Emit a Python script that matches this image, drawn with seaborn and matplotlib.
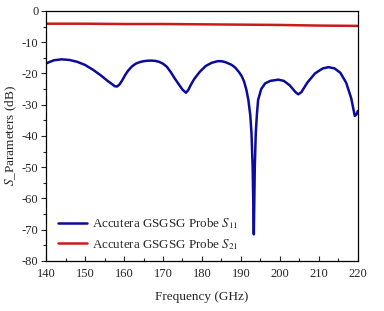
import numpy as np
import pandas as pd
import matplotlib
matplotlib.use('Agg')
import matplotlib.pyplot as plt
import seaborn as sns
from matplotlib.ticker import MultipleLocator

# S11 曲线
s11_freq = [140, 142, 144, 146, 148, 150, 152, 154, 156, 157, 157.6, 158.2, 158.8, 159.5, 160.3,
            161, 162, 163, 164, 165, 166, 167, 168, 169, 170, 171, 172, 173, 174, 175, 175.9,
            176.5, 177, 178, 179.5, 181, 182.5, 184, 185, 186, 187.5, 188.5, 189.5, 190.2, 190.8,
            191.4, 191.9, 192.4, 192.7, 193.0, 193.3, 193.55, 193.8, 194.1, 194.4, 195.2, 196.2,
            197.5, 199.6, 201, 202.5, 204, 204.7, 205.5, 207, 209, 211, 212.5, 214, 215.5, 217,
            218.3, 219.2, 219.6, 220]
s11_db = [-16.8, -15.8, -15.5, -15.7, -16.3, -17.3, -18.8, -20.6, -22.6, -23.5, -24.1, -24.2,
          -23.6, -22.3, -20.5, -19.2, -17.8, -16.9, -16.4, -16.1, -15.95, -15.9, -16.0, -16.3,
          -16.9, -17.9, -19.6, -21.6, -23.4, -25.2, -26.2, -25.3, -24.0, -21.8, -19.4, -17.6,
          -16.6, -16.1, -16.1, -16.4, -17.2, -18.1, -19.6, -20.9, -22.6, -25.3, -28.5, -33.5,
          -39.1, -50.0, -71.5, -50.0, -39.1, -33.0, -28.5, -25.0, -23.2, -22.4, -22.0, -22.4,
          -23.8, -26.0, -26.7, -26.0, -23.0, -20.0, -18.4, -18.0, -18.4, -19.8, -23.0, -28.0,
          -33.6, -33.2, -32.0]

# S21 曲线
s21_freq = [140, 150, 160, 170, 180, 190, 200, 210, 220]
s21_db = [-4.1, -4.1, -4.2, -4.2, -4.3, -4.4, -4.5, -4.7, -4.8]

x_ticks = [140, 150, 160, 170, 180, 190, 200, 210, 220]
y_ticks = [0, -10, -20, -30, -40, -50, -60, -70, -80]

sns.set_theme(style='ticks')
plt.rcParams['font.family'] = ['Liberation Serif', 'DejaVu Serif']
plt.rcParams['mathtext.fontset'] = 'stix'
plt.rcParams['axes.unicode_minus'] = False

fig = plt.figure(figsize=(3.84, 3.11), dpi=100)
ax = fig.add_axes([0.12, 0.161, 0.812, 0.804])

df11 = pd.DataFrame({'freq': s11_freq, 'db': s11_db})
df21 = pd.DataFrame({'freq': s21_freq, 'db': s21_db})
sns.lineplot(data=df11, x='freq', y='db', ax=ax, color='#0b0b9c', lw=1.8,
             label='Accutera GSGSG Probe $S_{11}$')
sns.lineplot(data=df21, x='freq', y='db', ax=ax, color='#cc1a1a', lw=1.8,
             label='Accutera GSGSG Probe $S_{21}$')

ax.set_xlim(140, 220)
ax.set_ylim(-80, 0)
ax.set_xticks(x_ticks)
ax.set_yticks(y_ticks)
ax.xaxis.set_minor_locator(MultipleLocator(5))
ax.yaxis.set_minor_locator(MultipleLocator(5))
ax.tick_params(axis='x', which='both', direction='in', top=False, labelsize=9, pad=5)
ax.tick_params(axis='y', which='both', direction='out', right=False, labelsize=9, pad=2)
ax.tick_params(which='major', length=3.5, width=0.8)
ax.tick_params(which='minor', length=2, width=0.8)
for sp in ax.spines.values():
    sp.set_linewidth(0.9)
    sp.set_color('black')

ax.set_xlabel('Frequency (GHz)', fontsize=9.5, labelpad=8)
ax.set_ylabel('$S$_Parameters (dB)', fontsize=9.5, labelpad=2)

ax.legend(loc='lower left', bbox_to_anchor=(0.01, 0.0), frameon=False, fontsize=9.4,
          handlelength=2.2, handletextpad=0.4, labelspacing=0.45, borderaxespad=0.3)

fig.savefig('out.png', dpi=100)
